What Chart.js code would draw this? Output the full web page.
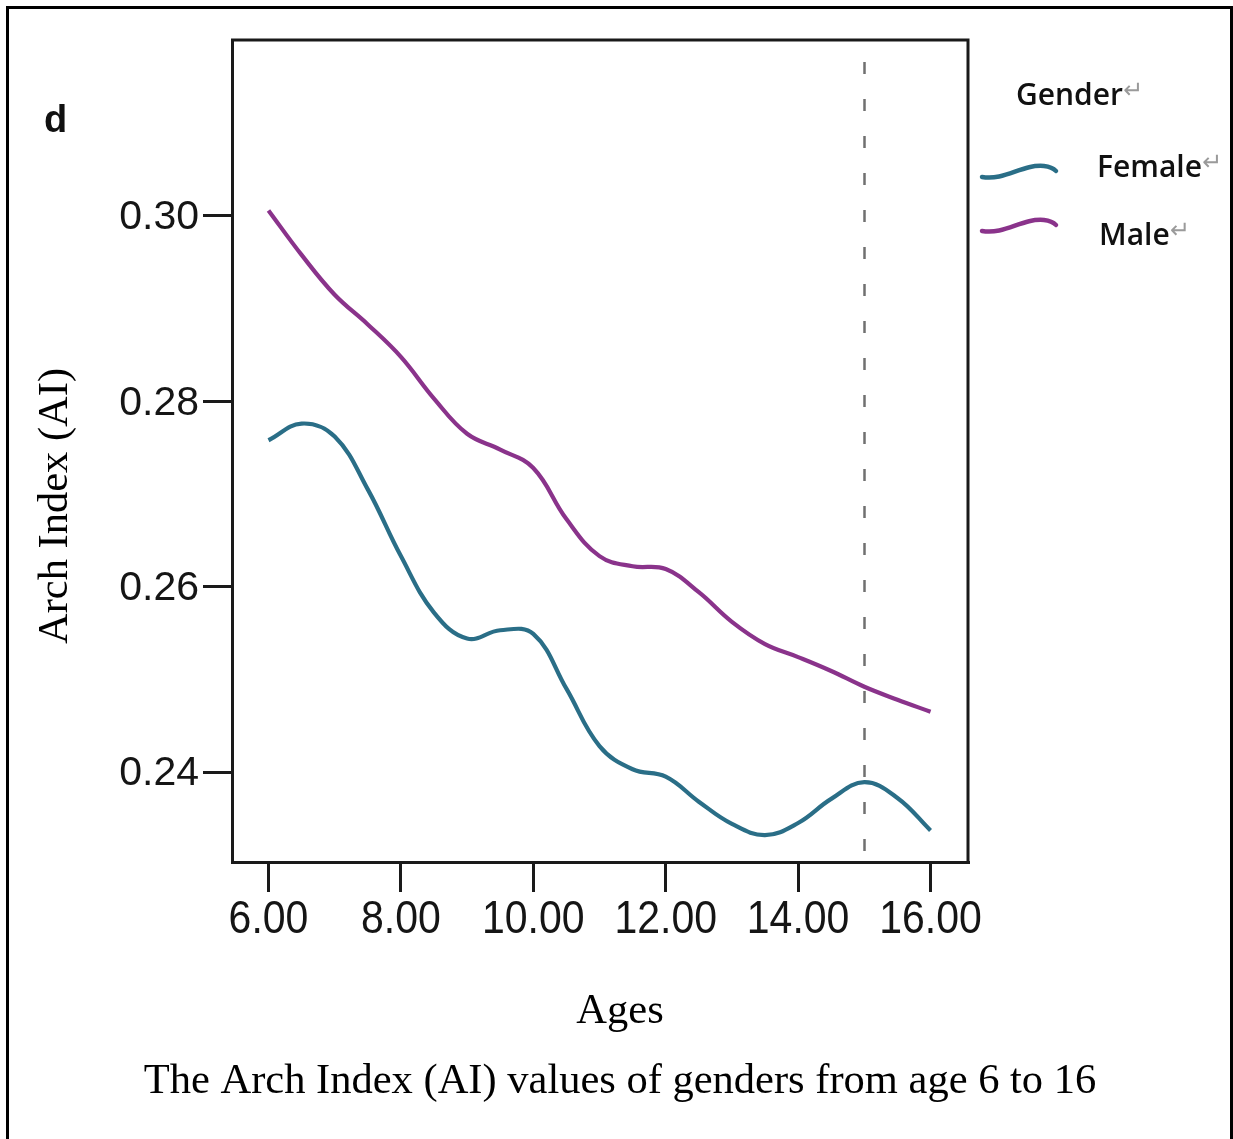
<!DOCTYPE html>
<html>
<head>
<meta charset="utf-8">
<title>Arch Index by age and gender</title>
<script src="https://cdn.jsdelivr.net/npm/chart.js@4.4.1/dist/chart.umd.min.js"></script>
<style>
  html, body { margin: 0; padding: 0; background: #ffffff; }
  #wrap { position: relative; width: 1233px; height: 1139px; }
  canvas { display: block; }
</style>
</head>
<body>
<div id="wrap"><canvas id="chart" width="1233" height="1139"></canvas></div>
<script>
// Ages sampled along the smoothed curves
const ages = [6, 6.5, 7, 7.5, 8, 8.5, 9, 9.5, 10, 10.5, 11, 11.5, 12, 12.5, 13, 13.5, 14, 14.5, 15, 15.5, 16];

// Arch Index (AI) per gender
const femaleAI = [0.2758, 0.2776, 0.2762, 0.2705, 0.2633, 0.2572, 0.2544, 0.2553, 0.2549, 0.2490, 0.2428, 0.2403, 0.2395, 0.2368, 0.2344, 0.2332, 0.2345, 0.2371, 0.2389, 0.2372, 0.2337];
const maleAI   = [0.3006, 0.2958, 0.2915, 0.2883, 0.2848, 0.2803, 0.2765, 0.2748, 0.2728, 0.2673, 0.2633, 0.2622, 0.2619, 0.2594, 0.2562, 0.2538, 0.2524, 0.2509, 0.2492, 0.2478, 0.2465];

// Axis ticks and reference line
const xTickValues = [6, 8, 10, 12, 14, 16];
const yTickValues = [0.24, 0.26, 0.28, 0.30];
const referenceAge = 15;

// Texts
const seriesNames = ['Female', 'Male'];
const legendTitle = 'Gender';
const xTitle = 'Ages';
const yTitle = 'Arch Index (AI)';
const captionText = 'The Arch Index (AI) values of genders from age 6 to 16';
const panelTag = 'd';

const seriesColors = ['#2a6e87', '#8a338b'];
const returnMark = '\u21B5';

const toPoints = (vals) => ages.map((a, i) => ({ x: a, y: vals[i] }));

const decorPlugin = {
  id: 'decor',
  beforeDatasetsDraw(chart) {
    const { ctx, chartArea, scales } = chart;
    const x = Math.round(scales.x.getPixelForValue(referenceAge)) + 0.5;
    ctx.save();
    ctx.strokeStyle = '#707070';
    ctx.lineWidth = 2.5;
    ctx.setLineDash([12, 25]);
    ctx.lineDashOffset = -20;
    ctx.beginPath();
    ctx.moveTo(x, chartArea.top + 2);
    ctx.lineTo(x, chartArea.bottom);
    ctx.stroke();
    ctx.restore();
  },
  afterDraw(chart) {
    const { ctx, chartArea, scales } = chart;
    ctx.save();

    // outer figure border
    ctx.strokeStyle = '#000';
    ctx.lineWidth = 3;
    ctx.beginPath();
    ctx.moveTo(7.5, 1139);
    ctx.lineTo(7.5, 7.5);
    ctx.lineTo(1231.5, 7.5);
    ctx.lineTo(1231.5, 1139);
    ctx.stroke();

    // top and right sides of the plot frame
    ctx.strokeStyle = '#1a1a1a';
    ctx.lineWidth = 3;
    ctx.beginPath();
    ctx.moveTo(chartArea.left - 1, chartArea.top);
    ctx.lineTo(chartArea.right, chartArea.top);
    ctx.lineTo(chartArea.right, chartArea.bottom + 1);
    ctx.stroke();

    // tick labels
    ctx.fillStyle = '#151515';
    ctx.font = '41px "Liberation Sans", Arial, sans-serif';
    ctx.textAlign = 'right';
    ctx.textBaseline = 'middle';
    yTickValues.forEach(v => {
      ctx.fillText(v.toFixed(2), 199, scales.y.getPixelForValue(v) + 2);
    });
    ctx.textAlign = 'center';
    xTickValues.forEach(v => {
      const px = scales.x.getPixelForValue(v);
      ctx.save();
      ctx.translate(px, 920);
      ctx.scale(1, 1.12);
      ctx.fillText(v.toFixed(2), 0, 0);
      ctx.restore();
    });

    // panel tag
    ctx.fillStyle = '#111';
    ctx.font = 'bold 38px "Liberation Sans", Arial, sans-serif';
    ctx.textAlign = 'left';
    ctx.textBaseline = 'alphabetic';
    ctx.fillText(panelTag, 44, 132);

    // axis titles and caption
    ctx.fillStyle = '#000';
    ctx.font = '42.5px "Liberation Serif", "Times New Roman", serif';
    ctx.textAlign = 'center';
    ctx.textBaseline = 'middle';
    ctx.fillText(xTitle, 620, 1012);
    ctx.fillText(captionText, 620, 1082);
    ctx.save();
    ctx.translate(56, 506);
    ctx.rotate(-Math.PI / 2);
    ctx.fillText(yTitle, 0, 0);
    ctx.restore();

    // legend
    const drawWithMark = (text, x, y, size, weight) => {
      ctx.font = `${weight} ${size}px "Open Sans", "Noto Sans", sans-serif`;
      ctx.fillStyle = '#111';
      ctx.textAlign = 'left';
      ctx.textBaseline = 'middle';
      ctx.fillText(text, x, y);
      const w = ctx.measureText(text).width;
      ctx.font = `${Math.round(size * 0.8)}px "DejaVu Sans", sans-serif`;
      ctx.fillStyle = '#9a9a9a';
      ctx.fillText(returnMark, x + w, y - 4);
    };
    drawWithMark(legendTitle, 1016, 96, 30, 600);

    const rows = [{ y: 172, ty: 168 }, { y: 226, ty: 236 }];
    chart.data.datasets.forEach((ds, i) => {
      const r = rows[i];
      ctx.strokeStyle = ds.borderColor;
      ctx.lineWidth = 4.5;
      ctx.lineCap = 'round';
      ctx.beginPath();
      ctx.moveTo(982, r.y + 5);
      ctx.bezierCurveTo(1005, r.y + 9, 1022, r.y - 8, 1044, r.y - 6);
      ctx.quadraticCurveTo(1052, r.y - 5, 1056, r.y - 1);
      ctx.stroke();
      drawWithMark(ds.label, i === 0 ? 1097 : 1099, r.ty, 30, 600);
    });

    ctx.restore();
  }
};

new Chart(document.getElementById('chart'), {
  type: 'line',
  data: {
    datasets: [
      { label: seriesNames[0], data: toPoints(femaleAI), borderColor: seriesColors[0], borderWidth: 4.2, pointRadius: 0, tension: 0.4, fill: false },
      { label: seriesNames[1], data: toPoints(maleAI), borderColor: seriesColors[1], borderWidth: 4.2, pointRadius: 0, tension: 0.4, fill: false }
    ]
  },
  options: {
    responsive: false,
    animation: false,
    devicePixelRatio: 1,
    layout: { padding: { left: 203, top: 40, right: 265, bottom: 247 } },
    plugins: { legend: { display: false }, tooltip: { enabled: false } },
    scales: {
      x: {
        type: 'linear',
        min: 5.449,
        max: 16.566,
        afterBuildTicks: s => { s.ticks = xTickValues.map(v => ({ value: v })); },
        afterFit: s => { s.height = 30; },
        ticks: { display: false },
        grid: { drawOnChartArea: false, drawTicks: true, tickLength: 30, lineWidth: 3, color: '#1a1a1a' },
        border: { display: true, width: 3, color: '#1a1a1a' }
      },
      y: {
        type: 'linear',
        min: 0.23029,
        max: 0.31899,
        afterBuildTicks: s => { s.ticks = yTickValues.map(v => ({ value: v })); },
        afterFit: s => { s.width = 29; },
        ticks: { display: false },
        grid: { drawOnChartArea: false, drawTicks: true, tickLength: 29, lineWidth: 3, color: '#1a1a1a' },
        border: { display: true, width: 3, color: '#1a1a1a' }
      }
    }
  },
  plugins: [decorPlugin]
});
</script>
</body>
</html>
